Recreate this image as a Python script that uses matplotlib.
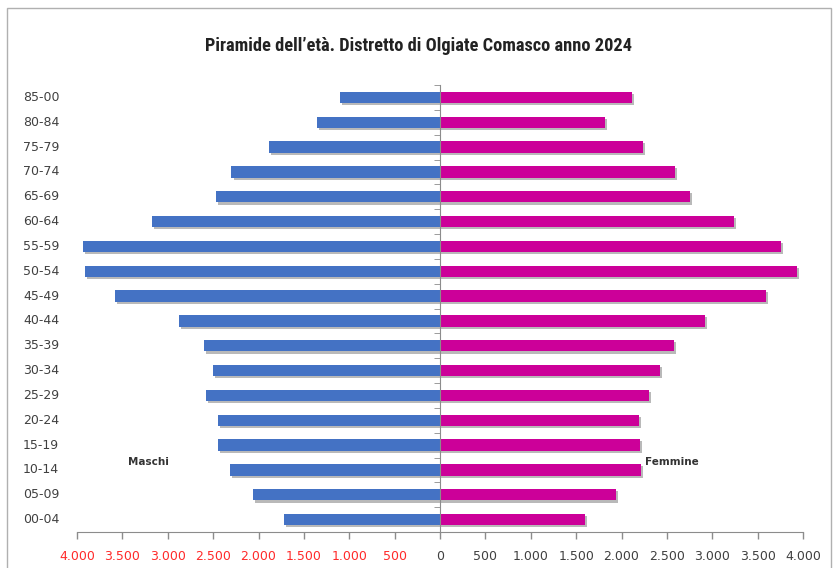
import matplotlib
matplotlib.use('Agg')
import matplotlib.pyplot as plt
import matplotlib.patheffects as pe
from matplotlib.patches import Rectangle
from matplotlib.ticker import FixedLocator, FuncFormatter
from matplotlib import font_manager

# ==================== dati ====================

# fasce d'età, dal basso verso l'alto
classi = ['00-04', '05-09', '10-14', '15-19', '20-24', '25-29', '30-34', '35-39', '40-44',
          '45-49', '50-54', '55-59', '60-64', '65-69', '70-74', '75-79', '80-84', '85-00']
maschi = [1724, 2059, 2316, 2449, 2449, 2581, 2500, 2596, 2875,
          3585, 3908, 3934, 3169, 2471, 2298, 1883, 1360, 1103]
femmine = [1596, 1934, 2214, 2199, 2188, 2305, 2427, 2574, 2923,
           3592, 3934, 3761, 3243, 2758, 2588, 2239, 1813, 2118]

titolo = "Piramide dell\u2019età. Distretto di Olgiate Comasco anno 2024"

BLU = '#4472C4'
MAGENTA = '#CC0099'

# font stretto per il titolo (simile a Calibri), se disponibile
nomi = {f.name for f in font_manager.fontManager.ttflist}
font_titolo = 'DejaVu Sans'
for cand in ['Liberation Sans Narrow', 'Roboto Condensed', 'Open Sans Condensed', 'Roboto']:
    if cand in nomi:
        font_titolo = cand
        break

# ==================== grafico ====================

fig = plt.figure(figsize=(8.33, 5.68), dpi=100)
ax = fig.add_axes([77 / 833, 36 / 568, 726 / 833, 447 / 568])

ombra = [pe.SimplePatchShadow(offset=(1.5, -1.5), shadow_rgbFace='#808080', alpha=0.55), pe.Normal()]

y = list(range(len(classi)))
b1 = ax.barh(y, [-v for v in maschi], height=0.46, color=BLU, zorder=2)
b2 = ax.barh(y, femmine, height=0.46, color=MAGENTA, zorder=2)
for p in list(b1) + list(b2):
    p.set_path_effects(ombra)

ax.set_xlim(-4000, 4000)
ax.set_ylim(-0.5, len(classi) - 0.5)

# asse x: valori assoluti, separatore delle migliaia col punto
ax.set_xticks(range(-4000, 4001, 500))
ax.xaxis.set_major_formatter(FuncFormatter(lambda v, _: f"{abs(int(v)):,}".replace(',', '.')))
ax.tick_params(axis='x', length=5, width=1, color='#8C8C8C', pad=8, labelsize=9, labelcolor='#404040')
for lab, v in zip(ax.get_xticklabels(), range(-4000, 4001, 500)):
    if v < 0:
        lab.set_color('#FF2A2A')

# asse y sullo zero
ax.spines['left'].set_position(('data', 0))
ax.spines['left'].set_color('#8C8C8C')
ax.spines['bottom'].set_color('#8C8C8C')
ax.spines['top'].set_visible(False)
ax.spines['right'].set_visible(False)
ax.set_yticks([])
ax.yaxis.set_minor_locator(FixedLocator([i - 0.5 for i in range(len(classi) + 1)]))
ax.tick_params(axis='y', which='minor', length=4, color='#8C8C8C')

trans = ax.get_yaxis_transform()
for yi, c in zip(y, classi):
    ax.text(-54 / 726, yi, c, transform=trans, ha='left', va='center', fontsize=9, color='#404040')

ax.text(-3210, 2.3, 'Maschi', ha='center', va='center', fontsize=7.5, fontweight='bold', color='#333333')
ax.text(2560, 2.3, 'Femmine', ha='center', va='center', fontsize=7.5, fontweight='bold', color='#333333')

t = fig.text(419 / 833, 1 - 46 / 568, titolo, ha='center', va='center', fontsize=12.5,
             fontweight='bold', family=[font_titolo, 'DejaVu Sans'], color='#222222')

# adatta la larghezza del titolo a quella del riferimento (~428 px)
fig.canvas.draw()
w = t.get_window_extent().width
if w > 0:
    t.set_fontsize(12.5 * 428 / w)

# cornice
fig.patches.append(Rectangle((7 / 833, -0.05), 824 / 833, 1.05 - 8 / 568, transform=fig.transFigure,
                             fill=False, edgecolor='#B0B0B0', linewidth=1))

fig.savefig('out.png', dpi=100)
